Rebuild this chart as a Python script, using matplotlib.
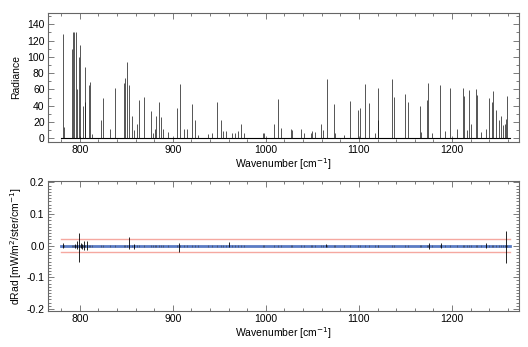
import matplotlib
matplotlib.use("Agg")
import matplotlib.pyplot as plt
from matplotlib.ticker import MultipleLocator

plt.rcParams['font.family'] = ['Liberation Sans', 'DejaVu Sans']
plt.rcParams['font.size'] = 7.5

# line centres [cm-1] and peak radiance
line_wn = [781.8, 783.0, 791.5, 793.3, 794.4, 796.2, 797.5, 799.0, 800.5, 804.0,
           805.2, 806.0, 810.0, 811.3, 813.0, 823.1, 825.3, 833.0, 837.5, 847.4,
           849.0, 850.3, 852.5, 856.5, 858.0, 863.2, 862.0, 869.0, 876.9, 879.0,
           881.8, 880.5, 885.5, 886.9, 889.0, 895.0, 904.8, 907.3, 911.9, 915.5,
           920.5, 923.4, 927.0, 938.0, 942.0, 947.1, 951.7, 953.5, 957.0, 964.0,
           967.0, 970.0, 973.7, 976.0, 996.6, 997.6, 1009.0, 1013.4, 1016.6, 1026.7,
           1028.5, 1038.1, 1041.0, 1048.0, 1050.0, 1053.0, 1058.9, 1061.0, 1065.7, 1072.9,
           1074.0, 1084.0, 1090.5, 1099.0, 1100.9, 1106.2, 1110.9, 1117.0, 1120.5, 1121.0,
           1135.6, 1137.4, 1149.2, 1152.2, 1165.4, 1167.0, 1173.5, 1174.3, 1179.0, 1186.9,
           1193.0, 1197.9, 1205.0, 1211.9, 1212.8, 1216.0, 1218.4, 1220.5, 1225.6, 1226.5,
           1231.0, 1236.0, 1239.9, 1244.2, 1243.5, 1247.8, 1250.0, 1252.2, 1254.5, 1256.5,
           1259.2, 1258.2]
line_rad = [128, 14, 110, 130, 130, 131, 60, 100, 114, 40,
            88, 45, 65, 69, 5, 23, 50, 12, 62, 68,
            74, 94, 66, 28, 10, 47, 18, 51, 34, 7,
            28, 12, 45, 26, 12, 8, 37, 67, 12, 12,
            42, 22, 4, 5, 7, 44, 22, 9, 9, 7,
            6, 9, 17, 6, 6, 6, 18, 48, 13, 11,
            10, 11, 6, 7, 9, 8, 18, 10, 73, 42,
            7, 4, 46, 35, 37, 67, 43, 7, 62, 22,
            73, 51, 55, 45, 40, 8, 47, 68, 7, 66,
            9, 62, 11, 62, 52, 10, 59, 18, 60, 53,
            8, 11, 50, 58, 45, 35, 22, 28, 16, 18,
            52, 24]

# residual spikes in the lower panel
diff_wn = [782.0, 795.0, 797.0, 799.0, 801.0, 803.0, 805.0, 808.0, 853.0, 858.0,
           907.0, 960.0, 1065.0, 1175.0, 1188.0, 1237.0, 1258.0]
diff_hi = [0.010, 0.006, 0.015, 0.040, 0.008, 0.004, 0.015, 0.015, 0.026, 0.004,
           0.010, 0.012, 0.005, 0.010, 0.007, 0.007, 0.045]
diff_lo = [-0.006, -0.006, -0.012, -0.050, -0.008, -0.010, -0.015, -0.015, -0.010, -0.010,
           -0.020, -0.003, -0.003, -0.010, -0.007, -0.007, -0.055]

wn_range = [780, 1262]
noise_level = 0.02

fig = plt.figure(figsize=(5.28, 3.47), dpi=100)
ax1 = fig.add_axes([0.091, 0.592, 0.892, 0.371])
ax2 = fig.add_axes([0.091, 0.105, 0.892, 0.374])

axis_col = '#666666'


def style(ax):
    for s in ax.spines.values():
        s.set_color(axis_col)
        s.set_linewidth(0.8)
    ax.tick_params(which='both', direction='in', top=True, right=True,
                   color=axis_col, width=0.6, pad=2.5)
    ax.tick_params(which='major', length=4)
    ax.tick_params(which='minor', length=2)
    ax.xaxis.set_major_locator(MultipleLocator(100))
    ax.xaxis.set_minor_locator(MultipleLocator(20))
    ax.set_xlim(766, 1272)
    ax.set_xlabel('Wavenumber [cm$^{-1}$]', labelpad=1)


# upper panel: spectrum
ax1.plot(wn_range, [1, 1], color='black', lw=0.8)
ax1.vlines(line_wn, 1, line_rad, color='#111111', lw=0.5)
style(ax1)
ax1.set_ylim(-4, 154)
ax1.yaxis.set_major_locator(MultipleLocator(20))
ax1.yaxis.set_minor_locator(MultipleLocator(10))
ax1.set_ylabel('Radiance', labelpad=4)

# lower panel: residual
ax2.plot(wn_range, [noise_level, noise_level], color='#f5a8a0', lw=1)
ax2.plot(wn_range, [-noise_level, -noise_level], color='#f5a8a0', lw=1)
ax2.plot(wn_range, [0, 0], color='#5b7cc4', lw=2)
ax2.plot(line_wn, [0] * len(line_wn), ls='none', marker='|', ms=2,
         mew=0.5, color='#333333', alpha=0.7)
ax2.vlines(diff_wn, diff_lo, diff_hi, color='black', lw=0.6)
style(ax2)
ax2.set_ylim(-0.205, 0.205)
ax2.set_yticks([-0.2, -0.1, 0.0, 0.1, 0.2])
ax2.set_yticklabels(['-0.2', '-0.1', '0.0', '0.1', '0.2'])
ax2.yaxis.set_minor_locator(MultipleLocator(0.01))
ax2.set_ylabel('dRad [mW/m$^2$/ster/cm$^{-1}$]', labelpad=2)

fig.savefig('out.png', dpi=100)
